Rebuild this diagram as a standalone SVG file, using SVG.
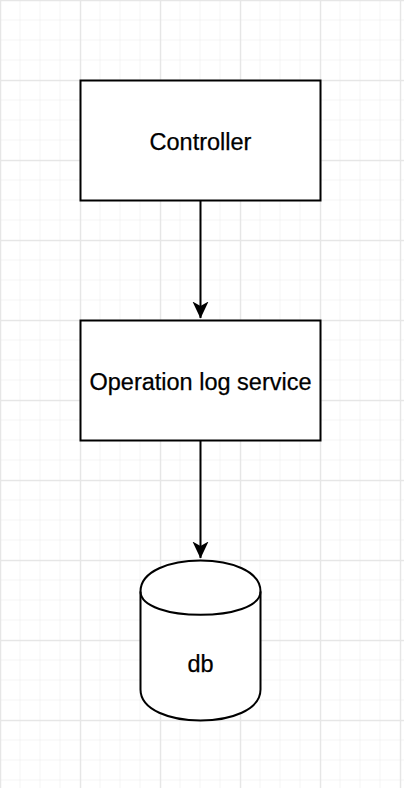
<svg xmlns="http://www.w3.org/2000/svg" width="404" height="788" viewBox="0 0 404 788">
<defs>
<pattern id="minor" width="20" height="20" patternUnits="userSpaceOnUse">
<path d="M20 0V20M0 20H20" fill="none" stroke="#f1f1f1" stroke-width="1.5"/>
</pattern>
<pattern id="major" width="80" height="80" patternUnits="userSpaceOnUse">
<path d="M0.5 0V80M0 0.5H80" fill="none" stroke="#e6e6e6" stroke-width="1.5"/>
</pattern>
<marker id="arrow" viewBox="0 0 17 17" refX="16.5" refY="8.5" markerWidth="17" markerHeight="17" markerUnits="userSpaceOnUse" orient="auto">
<path d="M0 0.5L17 8.5L0 16.5L4.5 8.5Z" fill="#000"/>
</marker>
</defs>
<style>
.shape{fill:#fff;stroke:#000;stroke-width:2}
.lbl{font-family:"Liberation Sans",Arial,sans-serif;font-size:23.5px;fill:#000;text-anchor:middle;stroke:#000;stroke-width:0.25}
.edge{fill:none;stroke:#000;stroke-width:2}
</style>
<rect width="404" height="788" fill="#fff"/>
<g transform="translate(0.5,0.5)"><rect x="-0.5" y="-0.5" width="405" height="789" fill="url(#minor)"/></g>
<rect width="404" height="788" fill="url(#major)"/>
<g id="connectors">
<path class="edge" d="M200.5 201V318" marker-end="url(#arrow)"/>
<path class="edge" d="M200.5 441V558" marker-end="url(#arrow)"/>
</g>
<g id="controller">
<rect class="shape" x="80.5" y="80.5" width="240" height="120"/>
<text class="lbl" x="200.5" y="150">Controller</text>
</g>
<g id="oplog">
<rect class="shape" x="80.5" y="320.5" width="240" height="120"/>
<text class="lbl" x="200.5" y="389.5">Operation log service</text>
</g>
<g id="db">
<path class="shape" d="M140.5 591.5C140.5 550.2 260.5 550.2 260.5 591.5L260.5 689.5C260.5 730.8 140.5 730.8 140.5 689.5Z"/>
<path class="shape" d="M140.5 591.5C140.5 622.5 260.5 622.5 260.5 591.5" style="fill:none"/>
<text class="lbl" x="200.5" y="672">db</text>
</g>
</svg>
